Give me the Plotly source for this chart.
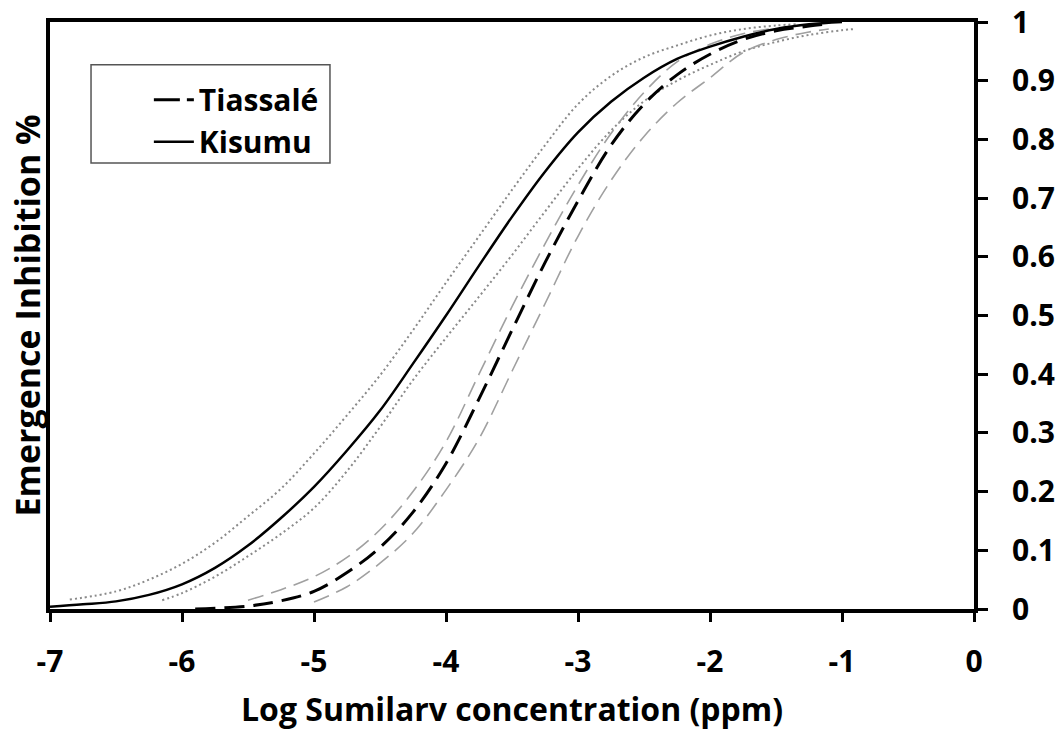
import plotly.graph_objects as go

# ---- data ----
# Kisumu (solid) and its confidence limits (dotted)
kis_x = [-7.0, -6.75, -6.5, -6.25, -6.0, -5.75, -5.5, -5.25, -5.0, -4.75, -4.5, -4.25,
         -4.0, -3.75, -3.5, -3.25, -3.0, -2.75, -2.5, -2.25, -2.0, -1.75, -1.5, -1.25, -1.0]
kis_y = [0.004, 0.008, 0.013, 0.024, 0.042, 0.07, 0.108, 0.155, 0.208, 0.27, 0.338, 0.418,
         0.5, 0.585, 0.668, 0.745, 0.812, 0.864, 0.905, 0.937, 0.958, 0.975, 0.988, 0.996, 1.0]

kis_up_x = [-6.85, -6.5, -6.25, -6.0, -5.75, -5.5, -5.25, -5.0, -4.75, -4.5, -4.25, -4.0,
            -3.75, -3.5, -3.25, -3.0, -2.75, -2.5, -2.25, -2.0, -1.75, -1.5, -1.35]
kis_up_y = [0.016, 0.03, 0.05, 0.077, 0.113, 0.158, 0.205, 0.265, 0.33, 0.398, 0.475, 0.556,
            0.635, 0.714, 0.79, 0.86, 0.908, 0.94, 0.96, 0.977, 0.988, 0.994, 0.996]

kis_lo_x = [-6.15, -6.0, -5.75, -5.5, -5.25, -5.0, -4.75, -4.5, -4.25, -4.0, -3.75, -3.5,
            -3.25, -3.0, -2.75, -2.5, -2.25, -2.0, -1.75, -1.5, -1.25, -1.0, -0.9]
kis_lo_y = [0.015, 0.027, 0.055, 0.09, 0.128, 0.172, 0.235, 0.31, 0.39, 0.462, 0.532, 0.603,
            0.677, 0.75, 0.815, 0.865, 0.9, 0.927, 0.95, 0.966, 0.978, 0.986, 0.988]

# Tiassalé (dashed black) and its confidence limits (grey dashed)
tia_x = [-5.9, -5.5, -5.25, -5.0, -4.75, -4.5, -4.25, -4.0, -3.75, -3.5, -3.25, -3.0,
         -2.75, -2.5, -2.25, -2.0, -1.75, -1.5, -1.25, -1.1]
tia_y = [0.0, 0.005, 0.014, 0.03, 0.062, 0.105, 0.165, 0.248, 0.358, 0.475, 0.59, 0.695,
         0.79, 0.86, 0.91, 0.945, 0.97, 0.985, 0.993, 0.997]

tia_up_x = [-5.5, -5.25, -5.0, -4.75, -4.5, -4.25, -4.0, -3.75, -3.5, -3.25, -3.0,
            -2.75, -2.5, -2.25, -2.0, -1.75, -1.5]
tia_up_y = [0.015, 0.033, 0.055, 0.088, 0.135, 0.2, 0.285, 0.4, 0.515, 0.622, 0.722,
            0.81, 0.88, 0.932, 0.962, 0.98, 0.99]

tia_lo_x = [-5.0, -4.75, -4.5, -4.25, -4.0, -3.75, -3.5, -3.25, -3.0, -2.75, -2.5, -2.25,
            -2.0, -1.75, -1.5, -1.25, -1.1]
tia_lo_y = [0.012, 0.038, 0.078, 0.129, 0.203, 0.29, 0.405, 0.52, 0.635, 0.73, 0.805, 0.862,
            0.905, 0.948, 0.97, 0.983, 0.988]

series_names = ["Tiassalé", "Kisumu"]
x_ticks = [-7, -6, -5, -4, -3, -2, -1, 0]
y_ticks = [0, 0.1, 0.2, 0.3, 0.4, 0.5, 0.6, 0.7, 0.8, 0.9, 1]
y_labels = ["0", "0.1", "0.2", "0.3", "0.4", "0.5", "0.6", "0.7", "0.8", "0.9", "1"]

FONT = "Open Sans"
fig = go.Figure()

def add(x, y, color, width, dash, name=None, legend=False):
    fig.add_trace(go.Scatter(x=x, y=y, mode="lines", name=name, showlegend=legend,
                             line=dict(color=color, width=width, dash=dash, shape="spline")))

add(kis_up_x, kis_up_y, "#8a8a8a", 2, "2px,3px")
add(kis_lo_x, kis_lo_y, "#8a8a8a", 2, "2px,3px")
add(tia_up_x, tia_up_y, "#a0a0a0", 1.6, "16px,8px")
add(tia_lo_x, tia_lo_y, "#a0a0a0", 1.6, "16px,8px")
add(tia_x, tia_y, "black", 3, "20px,9px")
add(kis_x, kis_y, "black", 2.5, "solid")
# legend entries (line samples)
fig.add_trace(go.Scatter(x=[None], y=[None], mode="lines", name=series_names[0],
                         line=dict(color="black", width=3, dash="26px,7px")))
fig.add_trace(go.Scatter(x=[None], y=[None], mode="lines", name=series_names[1],
                         line=dict(color="black", width=2.5)))

fig.update_layout(
    width=1064, height=733,
    margin=dict(l=50, r=90, t=22, b=124),
    plot_bgcolor="white", paper_bgcolor="white",
    font=dict(family=FONT, color="black", size=28),
    showlegend=True,
    legend=dict(x=0.107, y=0.912, xanchor="left", yanchor="top",
                borderwidth=0, bgcolor="rgba(0,0,0,0)",
                font=dict(family=FONT, size=30, color="black", weight="bold"),
                traceorder="normal", itemwidth=40, tracegroupgap=0),
    shapes=[dict(type="rect", xref="paper", yref="paper",
                 x0=0.0444, x1=0.303, y0=0.760, y1=0.927,
                 line=dict(color="#555555", width=1.5), fillcolor="rgba(0,0,0,0)")],
)
fig.update_xaxes(range=[-7, 0], tickvals=x_ticks, ticktext=[str(v) for v in x_ticks],
                 showgrid=False, zeroline=False, showline=True, linecolor="black",
                 linewidth=4, mirror=True, ticks="outside", ticklen=9, tickwidth=3,
                 tickcolor="black", ticklabelstandoff=14, automargin=False,
                 ticklabeloverflow="allow",
                 tickfont=dict(family=FONT, size=30, weight="bold"))
fig.update_yaxes(range=[0, 1], tickvals=y_ticks, ticktext=y_labels, side="right",
                 showgrid=False, zeroline=False, showline=True, linecolor="black",
                 linewidth=4, mirror=True, ticks="outside", ticklen=10, tickwidth=3,
                 tickcolor="black", ticklabelstandoff=18, automargin=False,
                 ticklabeloverflow="allow",
                 tickfont=dict(family=FONT, size=30, weight="bold"))
fig.add_annotation(text="Emergence Inhibition %", xref="paper", yref="paper",
                   x=-0.0249, y=0.5, textangle=-90, showarrow=False,
                   xanchor="center", yanchor="middle",
                   font=dict(family=FONT, size=34, weight="bold", color="black"))
fig.add_annotation(text="Log Sumilarv concentration (ppm)", xref="paper", yref="paper",
                   x=0.5, y=-0.1687, showarrow=False, xanchor="center", yanchor="middle",
                   font=dict(family=FONT, size=32, weight="bold", color="black"))

# remove the browser's default 8px page margin so the figure fills the window
fig.write_html("out.html", config={"displayModeBar": False},
               post_script="document.body.style.margin='0';document.body.style.overflow='hidden';")
